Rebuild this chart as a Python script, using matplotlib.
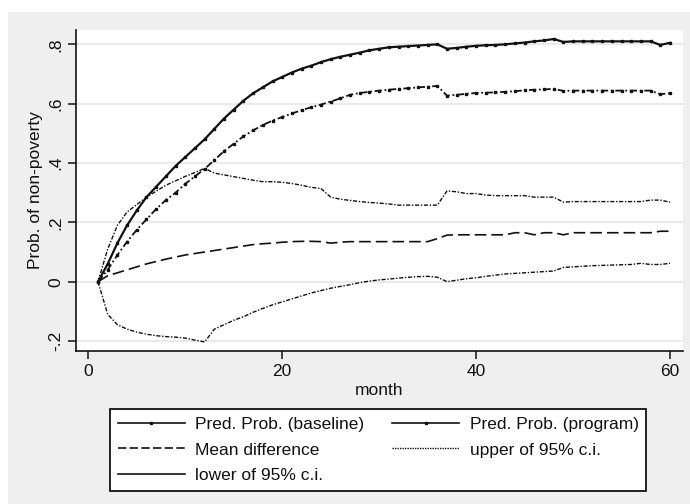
import matplotlib
matplotlib.use("Agg")
import matplotlib.pyplot as plt
from matplotlib.lines import Line2D
from matplotlib.patches import Rectangle
import numpy as np

plt.rcParams['font.family'] = ['Liberation Sans', 'DejaVu Sans']

months = list(range(1, 61))

program = [0.0, 0.06, 0.13, 0.19, 0.24, 0.285, 0.32, 0.355, 0.39, 0.42,
           0.45, 0.48, 0.515, 0.55, 0.58, 0.61, 0.635, 0.655, 0.675, 0.69,
           0.705, 0.718, 0.728, 0.74, 0.75, 0.758, 0.765, 0.772, 0.78, 0.785,
           0.79, 0.792, 0.794, 0.796, 0.798, 0.80, 0.785, 0.788, 0.792, 0.795,
           0.797, 0.798, 0.80, 0.803, 0.806, 0.81, 0.813, 0.818, 0.808, 0.81,
           0.81, 0.81, 0.81, 0.81, 0.81, 0.81, 0.81, 0.81, 0.798, 0.805]

baseline = [0.0, 0.04, 0.09, 0.135, 0.175, 0.21, 0.245, 0.275, 0.30, 0.33,
            0.355, 0.38, 0.41, 0.44, 0.465, 0.49, 0.51, 0.528, 0.543, 0.555,
            0.567, 0.578, 0.588, 0.597, 0.607, 0.618, 0.63, 0.636, 0.64, 0.644,
            0.647, 0.65, 0.652, 0.655, 0.657, 0.66, 0.627, 0.63, 0.633, 0.636,
            0.637, 0.638, 0.64, 0.642, 0.645, 0.647, 0.648, 0.65, 0.643, 0.644,
            0.644, 0.644, 0.644, 0.644, 0.644, 0.644, 0.644, 0.644, 0.632, 0.635]

mean_diff = [0.0, 0.02, 0.03, 0.04, 0.05, 0.06, 0.068, 0.076, 0.083, 0.09,
             0.095, 0.10, 0.105, 0.11, 0.115, 0.12, 0.125, 0.128, 0.13, 0.133,
             0.135, 0.136, 0.136, 0.135, 0.13, 0.133, 0.135, 0.135, 0.135, 0.135,
             0.135, 0.135, 0.135, 0.135, 0.135, 0.145, 0.157, 0.158, 0.158, 0.158,
             0.158, 0.158, 0.158, 0.165, 0.165, 0.158, 0.165, 0.165, 0.158, 0.165,
             0.165, 0.165, 0.165, 0.165, 0.165, 0.165, 0.165, 0.165, 0.17, 0.17]

upper_ci = [0.0, 0.11, 0.19, 0.235, 0.26, 0.285, 0.305, 0.325, 0.34, 0.355,
            0.368, 0.382, 0.366, 0.36, 0.354, 0.348, 0.342, 0.337, 0.337, 0.335,
            0.331, 0.325, 0.318, 0.314, 0.285, 0.278, 0.274, 0.27, 0.267, 0.265,
            0.262, 0.258, 0.258, 0.258, 0.258, 0.258, 0.306, 0.303, 0.297, 0.297,
            0.292, 0.29, 0.29, 0.29, 0.29, 0.285, 0.285, 0.285, 0.268, 0.27,
            0.27, 0.27, 0.27, 0.27, 0.27, 0.27, 0.27, 0.275, 0.275, 0.268]

lower_ci = [0.0, -0.11, -0.145, -0.16, -0.17, -0.177, -0.182, -0.185, -0.187, -0.19,
            -0.197, -0.203, -0.16, -0.145, -0.13, -0.118, -0.103, -0.09, -0.078, -0.068,
            -0.058, -0.048, -0.038, -0.03, -0.022, -0.016, -0.01, -0.003, 0.002, 0.006,
            0.009, 0.012, 0.015, 0.017, 0.018, 0.015, 0.0, 0.005, 0.01, 0.013,
            0.018, 0.022, 0.026, 0.028, 0.03, 0.032, 0.034, 0.036, 0.048, 0.05,
            0.052, 0.054, 0.055, 0.056, 0.057, 0.058, 0.062, 0.058, 0.058, 0.062]

x_ticks = [0, 20, 40, 60]
y_ticks = [-0.2, 0.0, 0.2, 0.4, 0.6, 0.8]
y_tick_labels = ['-.2', '0', '.2', '.4', '.6', '.8']
labels = ['Pred. Prob. (baseline)', 'Pred. Prob. (program)', 'Mean difference',
          'upper of 95% c.i.', 'lower of 95% c.i.']

W, H = 690, 504
FS = 12.5
fig = plt.figure(figsize=(W / 100, H / 100), dpi=100)
fig.patch.set_facecolor('white')
fig.patches.append(Rectangle((8 / W, 0), 1 - 8 / W, 1 - 12 / H, transform=fig.transFigure,
                             facecolor='#efefef', edgecolor='none', zorder=-10))

ax = fig.add_axes([76 / W, 1 - 351 / H, (683 - 76) / W, (351 - 30) / H])
ax.set_facecolor('white')

ink = '#111111'
ax.plot(months, program, color=ink, lw=1.6, marker='s', ms=1.6, zorder=5)
ax.plot(months, baseline, color=ink, lw=1.3, ls=(0, (4, 1.5, 1, 1.5)), marker='s', ms=1.5, zorder=5)
ax.plot(months, mean_diff, color=ink, lw=1.2, ls=(0, (7, 3)), zorder=4)
ax.plot(months, upper_ci, color=ink, lw=1.0, ls=(0, (3, 1.2, 1, 1.2)), zorder=4)
ax.plot(months, lower_ci, color=ink, lw=1.0, ls=(0, (3, 1.2, 1, 1.2)), zorder=4)

ax.set_xlim(-1.27, 61.34)
ax.set_ylim(-0.2336, 0.8483)
ax.set_xticks(x_ticks)
ax.set_yticks(y_ticks)
ax.set_yticklabels(y_tick_labels, rotation=90, va='center')
ax.tick_params(axis='both', direction='out', length=6, width=1.1, colors=ink,
               labelsize=FS, pad=3)
ax.grid(axis='y', color='#e6e6e6', lw=1.2)
ax.set_axisbelow(True)
for s in ['top', 'right']:
    ax.spines[s].set_visible(False)
for s in ['left', 'bottom']:
    ax.spines[s].set_linewidth(1.2)
    ax.spines[s].set_color(ink)

ax.set_xlabel('month', fontsize=FS, color=ink, labelpad=3)
ax.set_ylabel('Prob. of non-poverty', fontsize=FS, color=ink, labelpad=4)

handles = [
    Line2D([], [], color=ink, lw=1.2, marker='s', ms=2.0),
    Line2D([], [], color=ink, lw=1.2, ls=(0, (5, 2))),
    Line2D([], [], color=ink, lw=1.2),
    Line2D([], [], color=ink, lw=1.2, marker='s', ms=2.0),
    Line2D([], [], color=ink, lw=1.0, ls=(0, (1, 0.8))),
]
order_labels = [labels[0], labels[2], labels[4], labels[1], labels[3]]
leg = fig.legend(handles, order_labels, ncol=2, loc='upper left',
                 bbox_to_anchor=(110 / W, 1 - 409 / H), fontsize=FS,
                 frameon=True, fancybox=False, shadow=False, numpoints=1,
                 handlelength=3.86, handletextpad=0.6, columnspacing=1.6,
                 labelspacing=0.6, borderpad=0.45, borderaxespad=0.0)
leg.get_frame().set_edgecolor(ink)
leg.get_frame().set_linewidth(1.3)
leg.get_frame().set_facecolor('white')
leg.get_frame().set_alpha(1)
for t in leg.get_texts():
    t.set_color(ink)

fig.savefig('out.png', dpi=100)
